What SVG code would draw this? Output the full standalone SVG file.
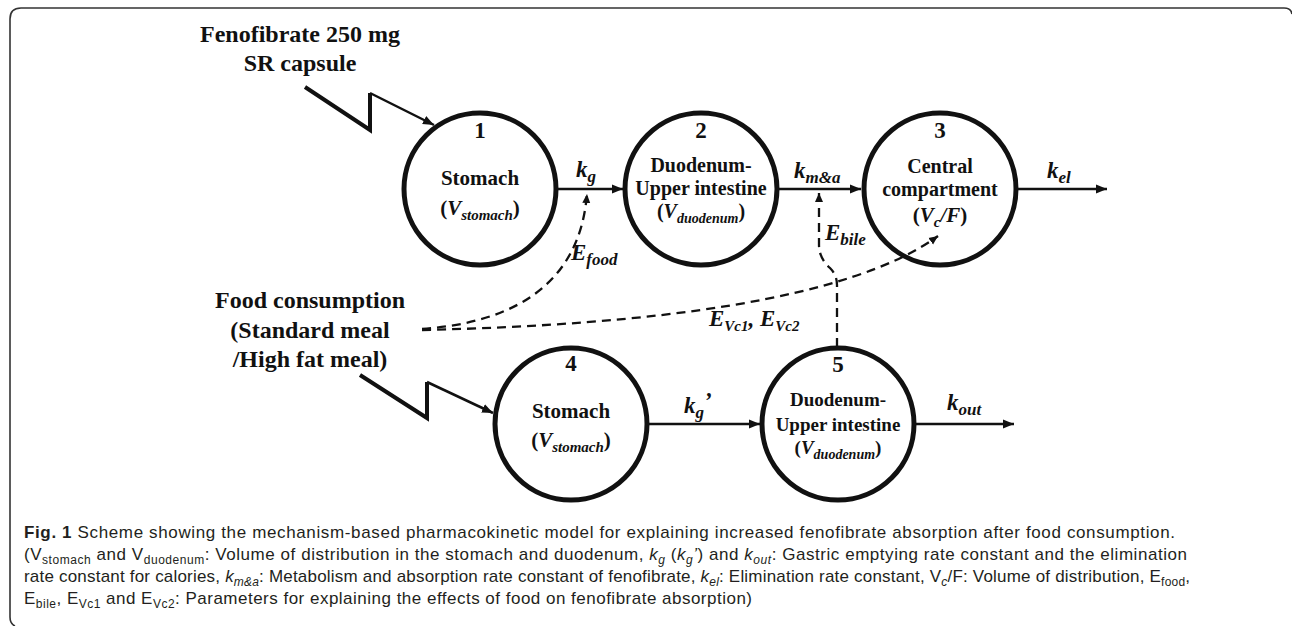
<svg xmlns="http://www.w3.org/2000/svg" width="1292" height="626" viewBox="0 0 1292 626">
<style>
.node{fill:#fff;stroke:#111;stroke-width:5}
.t{font-family:"Liberation Serif","Times New Roman",serif;font-weight:bold;fill:#111;text-anchor:middle}
.lbl{font-family:"Liberation Serif","Times New Roman",serif;font-weight:bold;font-style:italic;fill:#111}
.it{font-style:italic}
.solid{fill:none;stroke:#111;stroke-width:2.5}
.dash{fill:none;stroke:#111;stroke-width:2.3;stroke-dasharray:9 6}
.bolt{fill:none;stroke:#111;stroke-width:4;stroke-linejoin:miter}
.cap{font-family:"Liberation Sans",Arial,sans-serif;font-size:17px;fill:#231f20}
.frame{fill:none;stroke:#333;stroke-width:1.6}
</style>
<defs>
<marker id="ah" markerUnits="userSpaceOnUse" markerWidth="12" markerHeight="10" refX="11" refY="5" orient="auto">
<path d="M0,0.5 L11,5 L0,9.5 z" fill="#111"/>
</marker>
<marker id="ahs" markerUnits="userSpaceOnUse" markerWidth="10" markerHeight="10" refX="9" refY="4.5" orient="auto">
<path d="M0,0.5 L9,4.5 L0,8.5 z" fill="#111"/>
</marker>
</defs>
<rect width="1292" height="626" fill="#fff"/>
<path class="frame" d="M15 626 Q10 624 10 617 L10 19 Q10 8 21 8 L1284 8 Q1291 8 1292 14"/>

<g id="input-drug">
<text class="t" font-size="24" x="300" y="42">Fenofibrate 250 mg</text>
<text class="t" font-size="24" x="300" y="71">SR capsule</text>
</g>
<g id="input-food">
<text class="t" font-size="24" x="310" y="308">Food consumption</text>
<text class="t" font-size="24" x="310" y="338">(Standard meal</text>
<text class="t" font-size="24" x="310" y="367">/High fat meal)</text>
</g>

<g id="node1">
<circle class="node" cx="480" cy="189" r="76"/>
<text class="t" font-size="23" x="480" y="138">1</text>
<text class="t" font-size="21" x="480" y="185">Stomach</text>
<text class="t" font-size="21" x="480" y="215">(<tspan class="it">V</tspan><tspan class="it" font-size="15" dy="5">stomach</tspan><tspan dy="-5">)</tspan></text>
</g>
<g id="node2">
<circle class="node" cx="701" cy="189" r="76"/>
<text class="t" font-size="23" x="701" y="138">2</text>
<text class="t" font-size="20" x="701" y="172">Duodenum-</text>
<text class="t" font-size="20" x="701" y="195">Upper intestine</text>
<text class="t" font-size="20" x="701" y="218">(<tspan class="it">V</tspan><tspan class="it" font-size="14" dy="5">duodenum</tspan><tspan dy="-5">)</tspan></text>
</g>
<g id="node3">
<circle class="node" cx="940" cy="189" r="76"/>
<text class="t" font-size="23" x="940" y="138">3</text>
<text class="t" font-size="20" x="940" y="173">Central</text>
<text class="t" font-size="20" x="940" y="196">compartment</text>
<text class="t" font-size="21" x="940" y="222">(<tspan class="it">V</tspan><tspan class="it" font-size="15" dy="5">c</tspan><tspan class="it" dy="-5">/F</tspan>)</text>
</g>
<g id="node4">
<circle class="node" cx="571" cy="424" r="76"/>
<text class="t" font-size="23" x="571" y="371">4</text>
<text class="t" font-size="21" x="571" y="418">Stomach</text>
<text class="t" font-size="21" x="571" y="447">(<tspan class="it">V</tspan><tspan class="it" font-size="15" dy="5">stomach</tspan><tspan dy="-5">)</tspan></text>
</g>
<g id="node5">
<circle class="node" cx="838" cy="424" r="76"/>
<text class="t" font-size="23" x="838" y="372">5</text>
<text class="t" font-size="19" x="838" y="406">Duodenum-</text>
<text class="t" font-size="19" x="838" y="431">Upper intestine</text>
<text class="t" font-size="19" x="838" y="454">(<tspan class="it">V</tspan><tspan class="it" font-size="14" dy="5">duodenum</tspan><tspan dy="-5">)</tspan></text>
</g>

<g id="connectors">
<path class="solid" d="M557 189 L623 189" marker-end="url(#ah)"/>
<path class="solid" d="M778 189 L861 189" marker-end="url(#ah)"/>
<path class="solid" d="M1017 189 L1107 189" marker-end="url(#ah)"/>
<path class="solid" d="M647 424 L760 424" marker-end="url(#ah)"/>
<path class="solid" d="M915 424 L1014 424" marker-end="url(#ah)"/>
<path class="bolt" d="M305 87 L370 130 L370 93"/>
<path class="solid" d="M370 93 L434 125" marker-end="url(#ah)"/>
<path class="bolt" d="M360 375 L427 418 L427 382"/>
<path class="solid" d="M427 382 L493 413" marker-end="url(#ah)"/>
<path class="dash" d="M422 329 C520 322 580 280 587 194" marker-end="url(#ahs)"/>
<path class="dash" d="M422 330 C650 325 850 300 938 236" marker-end="url(#ahs)"/>
<path class="dash" d="M837 347 L837 285 Q837 275 830 268 Q819 258 819 245 L819 193" marker-end="url(#ahs)"/>
</g>

<g id="labels">
<text class="lbl" font-size="23" x="576" y="177">k<tspan font-size="17" dy="5">g</tspan></text>
<text class="lbl" font-size="23" x="794" y="178">k<tspan font-size="17" dy="5">m&amp;a</tspan></text>
<text class="lbl" font-size="23" x="1047" y="178">k<tspan font-size="17" dy="5">el</tspan></text>
<text class="lbl" font-size="23" x="684" y="413">k<tspan font-size="17" dy="5">g</tspan><tspan dy="-10">’</tspan></text>
<text class="lbl" font-size="23" x="947" y="410">k<tspan font-size="17" dy="5">out</tspan></text>
<text class="lbl" font-size="23" x="571" y="260">E<tspan font-size="17" dy="5">food</tspan></text>
<text class="lbl" font-size="23" x="825" y="240">E<tspan font-size="17" dy="5">bile</tspan></text>
<text class="lbl" font-size="23" x="709" y="326">E<tspan font-size="15" dy="5">Vc1</tspan><tspan dy="-5">, E</tspan><tspan font-size="15" dy="5">Vc2</tspan></text>
</g>

<g id="caption">
<text class="cap" x="24" y="538" textLength="1151" lengthAdjust="spacing"><tspan font-weight="bold">Fig. 1</tspan> Scheme showing the mechanism-based pharmacokinetic model for explaining increased fenofibrate absorption after food consumption.</text>
<text class="cap" x="24" y="560" textLength="1163" lengthAdjust="spacing">(V<tspan font-size="12" dy="4">stomach</tspan><tspan dy="-4"> and V</tspan><tspan font-size="12" dy="4">duodenum</tspan><tspan dy="-4">: Volume of distribution in the stomach and duodenum, </tspan><tspan class="it">k</tspan><tspan class="it" font-size="12" dy="4">g</tspan><tspan dy="-4"> (</tspan><tspan class="it">k</tspan><tspan class="it" font-size="12" dy="4">g</tspan><tspan class="it" dy="-4">’</tspan>) and <tspan class="it">k</tspan><tspan class="it" font-size="12" dy="4">out</tspan><tspan dy="-4">: Gastric emptying rate constant and the elimination</tspan></text>
<text class="cap" x="24" y="582" textLength="1166" lengthAdjust="spacing">rate constant for calories, <tspan class="it">k</tspan><tspan class="it" font-size="12" dy="4">m&amp;a</tspan><tspan dy="-4">: Metabolism and absorption rate constant of fenofibrate, </tspan><tspan class="it">k</tspan><tspan class="it" font-size="12" dy="4">el</tspan><tspan dy="-4">: Elimination rate constant, V</tspan><tspan class="it" font-size="12" dy="4">c</tspan><tspan dy="-4">/F: Volume of distribution, E</tspan><tspan font-size="12" dy="4">food</tspan><tspan dy="-4">,</tspan></text>
<text class="cap" x="24" y="604" textLength="728" lengthAdjust="spacing">E<tspan font-size="12" dy="4">bile</tspan><tspan dy="-4">, E</tspan><tspan font-size="12" dy="4">Vc1</tspan><tspan dy="-4"> and E</tspan><tspan font-size="12" dy="4">Vc2</tspan><tspan dy="-4">: Parameters for explaining the effects of food on fenofibrate absorption)</tspan></text>
</g>
</svg>
